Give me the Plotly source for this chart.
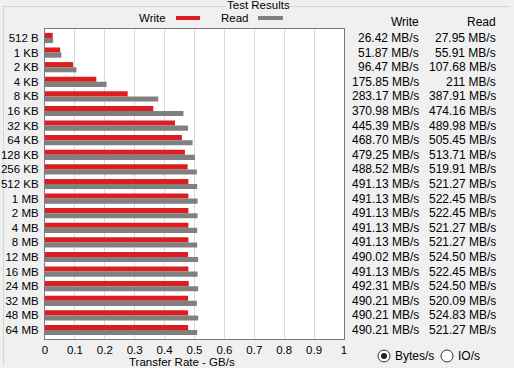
import plotly.graph_objects as go

categories = ["512 B", "1 KB", "2 KB", "4 KB", "8 KB", "16 KB", "32 KB", "64 KB",
              "128 KB", "256 KB", "512 KB", "1 MB", "2 MB", "4 MB", "8 MB", "12 MB",
              "16 MB", "24 MB", "32 MB", "48 MB", "64 MB"]
write_mbs = [26.42, 51.87, 96.47, 175.85, 283.17, 370.98, 445.39, 468.70, 479.25, 488.52,
             491.13, 491.13, 491.13, 491.13, 491.13, 490.02, 491.13, 492.31, 490.21, 490.21, 490.21]
read_mbs = [27.95, 55.91, 107.68, 211, 387.91, 474.16, 489.98, 505.45, 513.71, 519.91,
            521.27, 522.45, 522.45, 521.27, 521.27, 524.50, 522.45, 524.50, 520.09, 524.83, 521.27]
write_text = ["26.42", "51.87", "96.47", "175.85", "283.17", "370.98", "445.39", "468.70", "479.25",
              "488.52", "491.13", "491.13", "491.13", "491.13", "491.13", "490.02", "491.13",
              "492.31", "490.21", "490.21", "490.21"]
read_text = ["27.95", "55.91", "107.68", "211", "387.91", "474.16", "489.98", "505.45", "513.71",
             "519.91", "521.27", "522.45", "522.45", "521.27", "521.27", "524.50", "522.45",
             "524.50", "520.09", "524.83", "521.27"]
x_ticks = [0, 0.1, 0.2, 0.3, 0.4, 0.5, 0.6, 0.7, 0.8, 0.9, 1]
x_tick_labels = ["0", "0.1", "0.2", "0.3", "0.4", "0.5", "0.6", "0.7", "0.8", "0.9", "1"]

RED = "#dc1e22"
GRAY = "#808080"
FONT = "Liberation Sans"

W, H = 514, 368
L, R, T, B = 45, 344, 29, 339


def px_x(px):
    return (px - L) / (R - L)


def px_y(py):
    return (B - py) / (B - T)


fig = go.Figure()
fig.add_trace(go.Bar(y=categories, x=[v / 1024 for v in write_mbs], orientation="h",
                     marker=dict(color=RED, line=dict(width=0)), name="Write"))
fig.add_trace(go.Bar(y=categories, x=[v / 1024 for v in read_mbs], orientation="h",
                     marker=dict(color=GRAY, line=dict(width=0)), name="Read"))

ann = []
shapes = []
# table header
ann.append(dict(x=px_x(421), y=px_y(22), xref="paper", yref="paper", text="Write",
                showarrow=False, xanchor="right", yanchor="middle"))
ann.append(dict(x=px_x(498), y=px_y(22), xref="paper", yref="paper", text="Read",
                showarrow=False, xanchor="right", yanchor="middle"))
for c, w, r in zip(categories, write_text, read_text):
    ann.append(dict(x=px_x(421), y=c, xref="paper", yref="y", text=w + " MB/s",
                    showarrow=False, xanchor="right", yanchor="middle"))
    ann.append(dict(x=px_x(498), y=c, xref="paper", yref="y", text=r + " MB/s",
                    showarrow=False, xanchor="right", yanchor="middle"))

# title and legend
ann.append(dict(x=px_x(258), y=px_y(5.5), xref="paper", yref="paper", text="Test Results",
                showarrow=False, xanchor="center", yanchor="middle", bgcolor="#f0f0f0",
                borderpad=0, font=dict(size=11.5)))
ann.append(dict(x=px_x(168), y=px_y(18.5), xref="paper", yref="paper", text="Write",
                showarrow=False, xanchor="right", yanchor="middle", font=dict(size=11.5)))
ann.append(dict(x=px_x(251), y=px_y(18.5), xref="paper", yref="paper", text="Read",
                showarrow=False, xanchor="right", yanchor="middle", font=dict(size=11.5)))
shapes.append(dict(type="rect", xref="paper", yref="paper", x0=px_x(176), x1=px_x(200),
                   y0=px_y(20), y1=px_y(16), fillcolor=RED, line=dict(width=0)))
shapes.append(dict(type="rect", xref="paper", yref="paper", x0=px_x(258), x1=px_x(283),
                   y0=px_y(20), y1=px_y(16), fillcolor=GRAY, line=dict(width=0)))

# axis title
ann.append(dict(x=px_x(182), y=px_y(362), xref="paper", yref="paper", text="Transfer Rate - GB/s",
                showarrow=False, xanchor="center", yanchor="middle", font=dict(size=11.5)))

# group box
shapes.append(dict(type="line", xref="paper", yref="paper", x0=px_x(3), x1=px_x(510),
                   y0=px_y(6.5), y1=px_y(6.5), line=dict(color="#d5d5d5", width=1), layer="below"))
shapes.append(dict(type="line", xref="paper", yref="paper", x0=px_x(3.5), x1=px_x(3.5),
                   y0=px_y(6.5), y1=px_y(366), line=dict(color="#d5d5d5", width=1), layer="below"))

# radio buttons
shapes.append(dict(type="circle", xref="paper", yref="paper", x0=px_x(378), x1=px_x(390),
                   y0=px_y(362), y1=px_y(350), fillcolor="white", line=dict(color="#333333", width=1)))
shapes.append(dict(type="circle", xref="paper", yref="paper", x0=px_x(381), x1=px_x(387),
                   y0=px_y(359), y1=px_y(353), fillcolor="#222222", line=dict(width=0)))
shapes.append(dict(type="circle", xref="paper", yref="paper", x0=px_x(441), x1=px_x(453),
                   y0=px_y(362), y1=px_y(350), fillcolor="white", line=dict(color="#333333", width=1)))
ann.append(dict(x=px_x(393), y=px_y(356), xref="paper", yref="paper", text="Bytes/s",
                showarrow=False, xanchor="left", yanchor="middle"))
ann.append(dict(x=px_x(456), y=px_y(356), xref="paper", yref="paper", text="IO/s",
                showarrow=False, xanchor="left", yanchor="middle"))

fig.update_layout(
    width=W, height=H,
    margin=dict(l=L, r=W - R, t=T, b=H - B, pad=0, autoexpand=False),
    paper_bgcolor="#f0f0f0", plot_bgcolor="white",
    barmode="group", bargap=0.3, bargroupgap=0,
    showlegend=False,
    font=dict(family=FONT, size=12, color="black"),
    annotations=ann, shapes=shapes,
    xaxis=dict(range=[0, 1], tickvals=x_ticks, ticktext=x_tick_labels, showgrid=True,
               gridcolor="#dadada", gridwidth=1, zeroline=False, showline=True, mirror=True,
               linecolor="#7a7a7a", linewidth=1, ticks="", automargin=False,
               tickfont=dict(size=11.5)),
    yaxis=dict(type="category", autorange="reversed", showgrid=False, zeroline=False,
               showline=True, mirror=True, linecolor="#7a7a7a", linewidth=1, ticks="",
               ticklabelstandoff=3, automargin=False, tickfont=dict(size=11.5)),
)

fig.write_html(
    "out.html",
    config={"displayModeBar": False},
    post_script="document.body.style.margin='0';document.body.style.overflow='hidden';"
                "document.documentElement.style.overflow='hidden';"
)
